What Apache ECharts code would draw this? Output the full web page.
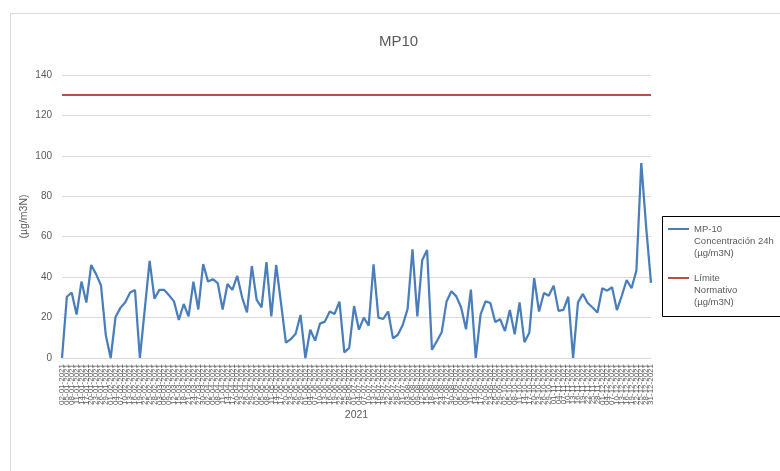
<!DOCTYPE html>
<html>
<head>
<meta charset="utf-8">
<title>MP10</title>
<script src="https://cdn.jsdelivr.net/npm/echarts@6/dist/echarts.min.js"></script>
<style>
  html, body { margin: 0; padding: 0; background: #fff; }
  #chart { width: 780px; height: 471px; }
</style>
</head>
<body>
<div id="chart"></div>
<script>
// fechas de muestreo (cada 3 días)
var fechas = [
  '02-01-2021','05-01-2021','08-01-2021','11-01-2021','14-01-2021','17-01-2021','20-01-2021','23-01-2021','26-01-2021','29-01-2021',
  '01-02-2021','04-02-2021','07-02-2021','10-02-2021','13-02-2021','16-02-2021','19-02-2021','22-02-2021','25-02-2021','28-02-2021',
  '03-03-2021','06-03-2021','09-03-2021','12-03-2021','15-03-2021','18-03-2021','21-03-2021','24-03-2021','27-03-2021','30-03-2021',
  '02-04-2021','05-04-2021','08-04-2021','11-04-2021','14-04-2021','17-04-2021','20-04-2021','23-04-2021','26-04-2021','29-04-2021',
  '02-05-2021','05-05-2021','08-05-2021','11-05-2021','14-05-2021','17-05-2021','20-05-2021','23-05-2021','26-05-2021','29-05-2021',
  '01-06-2021','04-06-2021','07-06-2021','10-06-2021','13-06-2021','16-06-2021','19-06-2021','22-06-2021','25-06-2021','28-06-2021',
  '01-07-2021','04-07-2021','07-07-2021','10-07-2021','13-07-2021','16-07-2021','19-07-2021','22-07-2021','25-07-2021','28-07-2021','31-07-2021',
  '03-08-2021','06-08-2021','09-08-2021','12-08-2021','15-08-2021','18-08-2021','21-08-2021','24-08-2021','27-08-2021','30-08-2021',
  '02-09-2021','05-09-2021','08-09-2021','11-09-2021','14-09-2021','17-09-2021','20-09-2021','23-09-2021','26-09-2021','29-09-2021',
  '02-10-2021','05-10-2021','08-10-2021','11-10-2021','14-10-2021','17-10-2021','20-10-2021','23-10-2021','26-10-2021','29-10-2021',
  '01-11-2021','04-11-2021','07-11-2021','10-11-2021','13-11-2021','16-11-2021','19-11-2021','22-11-2021','25-11-2021','28-11-2021',
  '01-12-2021','04-12-2021','07-12-2021','10-12-2021','13-12-2021','16-12-2021','19-12-2021','22-12-2021','25-12-2021','28-12-2021','31-12-2021'
];

// MP-10 concentración 24h (µg/m3N)
var mp10 = [
  0, 30.3, 32.3, 21.5, 37.8, 27.4, 46, 41.5, 36, 11.3,
  0, 20.3, 24.8, 27.6, 32.4, 33.6, 0, 24, 48, 29.3,
  33.7, 33.7, 31, 28, 18.8, 26.7, 20.6, 37.8, 24, 46.5,
  37.8, 39, 37, 24, 36.6, 33.7, 40.6, 30, 22.6, 45.5,
  28.7, 25, 47.4, 20.6, 46, 27, 7.6, 9.3, 12, 21.3,
  0, 14, 8.6, 17, 18, 23, 21.8, 27.9, 2.8, 5,
  25.7, 14, 20, 16, 46.3, 20, 19.3, 23, 9.7, 11.5, 16.3,
  24.3, 53.8, 20.6, 48.4, 53.4, 4.1, 8.3, 12.7, 28, 33,
  30.5, 25, 14.2, 33.8, 0, 21.6, 28, 27.2, 17.8, 19.2,
  13.3, 23.7, 11.7, 27.5, 7.8, 12.5, 39.5, 23, 32.2, 30.8,
  35.8, 23.3, 23.8, 30.3, 0, 27.5, 31.7, 27.2, 25, 22.5,
  34.5, 33.3, 35, 23.7, 30.8, 38.6, 34.5, 43.3, 96.5, 65, 37.2
];

var limite = 130;

var yMin = 0, yMax = 140, yStep = 20;

var nombreMP10 = 'MP-10\nConcentración 24h\n(µg/m3N)';
var nombreLimite = 'Límite\nNormativo\n(µg/m3N)';

var textColor = '#595959';
var fontFam = '"Liberation Sans", Arial, sans-serif';

var myChart = echarts.init(document.getElementById('chart'));

var option = {
  animation: false,
  backgroundColor: '#fff',
  textStyle: { fontFamily: fontFam },
  title: {
    text: 'MP10',
    left: 379,
    top: 34,
    padding: 0,
    textStyle: { fontSize: 15, fontWeight: 'normal', color: textColor, fontFamily: fontFam }
  },
  graphic: [
    {
      type: 'rect',
      shape: { x: 10.5, y: 13.5, width: 900, height: 600 },
      style: { fill: 'none', stroke: '#d9d9d9', lineWidth: 1 },
      silent: true
    },
    {
      type: 'rect',
      shape: { x: 662.5, y: 216.5, width: 200, height: 100 },
      style: { fill: 'none', stroke: '#000', lineWidth: 1 },
      silent: true
    }
  ],
  legend: {
    orient: 'vertical',
    left: 668,
    top: 199,
    padding: 0,
    itemWidth: 21,
    itemHeight: 2,
    itemGap: -11,
    icon: 'rect',
    selectedMode: false,
    // dos líneas en blanco arriba: la primera línea del texto queda a la altura del icono
    formatter: function (name) { return '\n\n' + name; },
    textStyle: {
      fontSize: 9.5,
      lineHeight: 12,
      color: textColor,
      fontFamily: fontFam
    },
    data: [nombreMP10, nombreLimite]
  },
  grid: { left: 62, right: 129, top: 75, bottom: 113 },
  xAxis: {
    type: 'category',
    boundaryGap: false,
    data: fechas,
    name: '2021',
    nameLocation: 'middle',
    nameGap: 52,
    nameMoveOverlap: false,
    nameTextStyle: { fontSize: 10.5, color: textColor },
    axisLine: { lineStyle: { color: '#d9d9d9' } },
    axisTick: { show: false },
    axisLabel: {
      interval: 0,
      rotate: 90,
      fontSize: 8,
      color: textColor,
      margin: 6
    },
    splitLine: { show: false }
  },
  yAxis: {
    type: 'value',
    min: yMin,
    max: yMax,
    interval: yStep,
    name: '(µg/m3N)',
    nameLocation: 'middle',
    nameGap: 32,
    nameMoveOverlap: false,
    nameTextStyle: { fontSize: 10.5, color: textColor },
    axisLine: { show: false },
    axisTick: { show: false },
    axisLabel: { fontSize: 10, color: textColor, margin: 10 },
    splitLine: { lineStyle: { color: '#d9d9d9', width: 1 } }
  },
  series: [
    {
      name: nombreMP10,
      type: 'line',
      data: mp10,
      symbol: 'none',
      color: '#4a7ebb',
      lineStyle: { width: 2.25, color: '#4a7ebb' }
    },
    {
      name: nombreLimite,
      type: 'line',
      data: [],
      symbol: 'none',
      color: '#be4b48',
      lineStyle: { width: 2, color: '#be4b48' },
      markLine: {
        silent: true,
        symbol: 'none',
        label: { show: false },
        lineStyle: { color: '#be4b48', width: 2, type: 'solid' },
        data: [{ yAxis: limite }]
      }
    }
  ]
};

myChart.setOption(option);
window.addEventListener('resize', myChart.resize);
</script>
</body>
</html>
